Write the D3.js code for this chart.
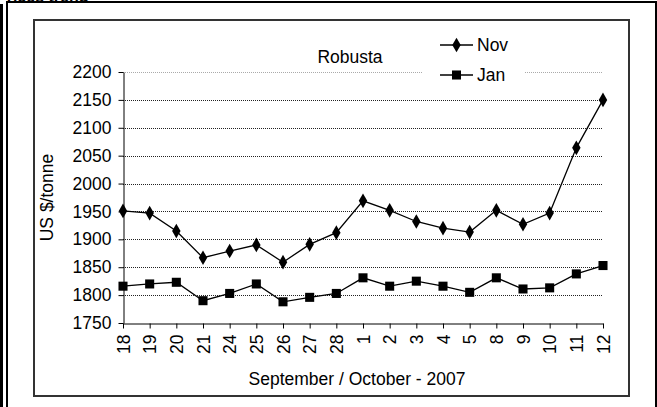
<!DOCTYPE html>
<html>
<head>
<meta charset="utf-8">
<script src="https://cdn.jsdelivr.net/npm/d3@7"></script>
<style>
    body { margin: 0; background: #fff; }
    svg { display: block; font-family: "Liberation Sans", Arial, sans-serif; }
</style>
</head>
<body>
<div id="chart"></div>
<script>
// Robusta coffee prices, Nov and Jan contracts
const days = ['18', '19', '20', '21', '24', '25', '26', '27', '28', '1', '2', '3', '4', '5', '8', '9', '10', '11', '12'];
const novPrices = [1951, 1947, 1915, 1867, 1879, 1890, 1859, 1891, 1912, 1969, 1952, 1932, 1920, 1913, 1952, 1927, 1947, 2064, 2150];
const janPrices = [1816, 1820, 1823, 1790, 1803, 1820, 1788, 1796, 1803, 1831, 1816, 1825, 1816, 1805, 1831, 1811, 1813, 1838, 1853];
const yTicks = [1750, 1800, 1850, 1900, 1950, 2000, 2050, 2100, 2150, 2200];

const width = 657, height = 407;
const plot = { left: 123, right: 603, top: 72, bottom: 323 };
const fontSize = 17.5;

const svg = d3.select('#chart').append('svg')
    .attr('width', width)
    .attr('height', height);

// outer document frame (page border bits)
svg.append('rect').attr('x', 0).attr('y', 4).attr('width', 3).attr('height', height - 4).attr('fill', '#000');
svg.append('rect').attr('x', 6).attr('y', 1).attr('width', 2).attr('height', height - 1).attr('fill', '#000');
svg.append('rect').attr('x', 6).attr('y', 1).attr('width', 650).attr('height', 2).attr('fill', '#000');
svg.append('rect').attr('x', 655).attr('y', 1).attr('width', 2).attr('height', height - 1).attr('fill', '#000');
// cut-off heading at very top
svg.append('text')
    .attr('x', -4).attr('y', 2)
    .attr('font-size', 16).attr('font-weight', 'bold')
    .text('Prices trend');

// chart area frame
svg.append('rect')
    .attr('x', 34).attr('y', 20)
    .attr('width', 595).attr('height', 376)
    .attr('fill', 'none')
    .attr('stroke', '#333')
    .attr('stroke-width', 2);

const x = d3.scalePoint().domain(days).range([plot.left, plot.right]);
const y = d3.scaleLinear().domain([1750, 2200]).range([plot.bottom, plot.top]);

// gridlines
svg.append('g')
    .selectAll('line')
    .data(yTicks.filter(d => d > 1750))
    .enter()
    .append('line')
    .attr('x1', plot.left)
    .attr('x2', plot.right)
    .attr('y1', d => Math.round(y(d)) + 0.5)
    .attr('y2', d => Math.round(y(d)) + 0.5)
    .attr('stroke', d => d === 2200 ? '#aaa' : '#222')
    .attr('stroke-width', 1)
    .attr('stroke-dasharray', '1,1');

// y axis
const yAxis = svg.append('g')
    .attr('transform', `translate(${plot.left + 0.5},0)`)
    .call(d3.axisLeft(y).tickValues(yTicks).tickFormat(d3.format('d'))
        .tickSize(5).tickSizeOuter(0).tickPadding(7));

// x axis
const xAxis = svg.append('g')
    .attr('transform', `translate(0,${Math.round(plot.bottom) + 0.5})`)
    .call(d3.axisBottom(x).tickSize(5).tickSizeOuter(0).tickPadding(0));

xAxis.selectAll('text')
    .attr('transform', 'translate(0,11) rotate(-90)')
    .attr('x', 0).attr('y', 0)
    .attr('dy', '0.35em')
    .attr('text-anchor', 'end');

[yAxis, xAxis].forEach(ax => {
    ax.selectAll('path, line').attr('stroke', '#000').attr('stroke-width', 1);
    ax.selectAll('text')
        .attr('fill', '#000')
        .attr('font-size', fontSize)
        .attr('font-family', '"Liberation Sans", Arial, sans-serif');
});

// axis titles
svg.append('text')
    .attr('x', (plot.left + plot.right) / 2 - 6)
    .attr('y', 385)
    .attr('text-anchor', 'middle')
    .attr('font-size', fontSize)
    .text('September / October - 2007');

svg.append('text')
    .attr('transform', `translate(53,${(plot.top + plot.bottom) / 2}) rotate(-90)`)
    .attr('text-anchor', 'middle')
    .attr('font-size', fontSize)
    .text('US $/tonne');

svg.append('text')
    .attr('x', 350)
    .attr('y', 63)
    .attr('text-anchor', 'middle')
    .attr('font-size', fontSize)
    .text('Robusta');

// series
const line = d3.line()
    .x((d, i) => x(days[i]))
    .y(d => y(d));

const series = [
    { name: 'Nov', values: novPrices, symbol: d3.symbolDiamond, size: 62 },
    { name: 'Jan', values: janPrices, symbol: d3.symbolSquare, size: 82 }
];

series.forEach(s => {
    svg.append('path')
        .datum(s.values)
        .attr('d', line)
        .attr('fill', 'none')
        .attr('stroke', '#000')
        .attr('stroke-width', 1.3);

    svg.append('g')
        .selectAll('path')
        .data(s.values)
        .enter()
        .append('path')
        .attr('d', d3.symbol().type(s.symbol).size(s.size))
        .attr('transform', (d, i) => `translate(${x(days[i])},${y(d)})`)
        .attr('fill', '#000');
});

// legend
const legend = svg.append('g');
legend.append('rect')
    .attr('x', 422).attr('y', 32)
    .attr('width', 102).attr('height', 56)
    .attr('fill', '#fff');

series.forEach((s, i) => {
    const ly = 45 + i * 30;
    legend.append('line')
        .attr('x1', 440).attr('x2', 473)
        .attr('y1', ly).attr('y2', ly)
        .attr('stroke', '#000')
        .attr('stroke-width', 1.3);
    legend.append('path')
        .attr('d', d3.symbol().type(s.symbol).size(s.size))
        .attr('transform', `translate(456.5,${ly})`)
        .attr('fill', '#000');
    legend.append('text')
        .attr('x', 477)
        .attr('y', ly)
        .attr('dy', '0.35em')
        .attr('font-size', fontSize)
        .text(s.name);
});
</script>
</body>
</html>
